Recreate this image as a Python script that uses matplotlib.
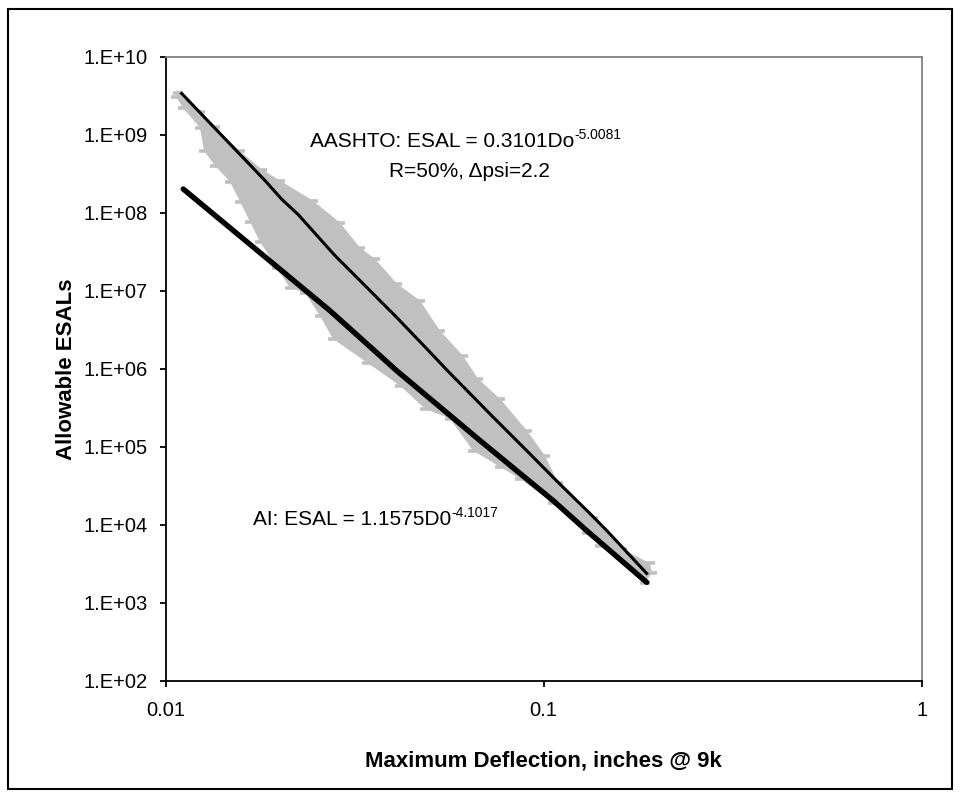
import numpy as np
import matplotlib.pyplot as plt
from matplotlib.patches import Rectangle

plt.rcParams['font.family'] = ['Liberation Sans', 'DejaVu Sans']

# AASHTO curve (thin black line)
aashto_x = [0.01102, 0.01832, 0.02028, 0.02244, 0.02805, 0.03334, 0.04083, 0.05000,
            0.05534, 0.07211, 0.09204, 0.1081, 0.1330, 0.1469, 0.1873]
aashto_y = [3.41e9, 2.60e8, 1.50e8, 9.50e7, 2.84e7, 1.23e7, 4.59e6, 1.65e6,
            9.80e5, 2.65e5, 8.13e4, 3.70e4, 1.38e4, 8.47e3, 2.39e3]

# AI curve (thick black line)
ai_x = [0.01113, 0.02721, 0.03333, 0.04084, 0.06785, 0.08483, 0.1060, 0.1300, 0.1873]
ai_y = [2.03e8, 5.58e6, 2.31e6, 9.51e5, 1.21e5, 4.97e4, 2.05e4, 8.45e3, 1.84e3]

# outline of the grey cloud of computed points (upper edge, left to right)
cloud_top_x = [0.01078, 0.01232, 0.01350, 0.01573, 0.01798, 0.02006, 0.02453, 0.02891,
               0.03266, 0.03578, 0.04091, 0.04708, 0.05316, 0.06115, 0.06703, 0.07663,
               0.09033, 0.1008, 0.1091, 0.1350, 0.1611, 0.1911, 0.1934]
cloud_top_y = [3.48e9, 1.95e9, 1.25e9, 6.20e8, 3.60e8, 2.60e8, 1.44e8, 7.52e7,
               3.59e7, 2.59e7, 1.24e7, 7.52e6, 3.10e6, 1.48e6, 7.52e5, 4.16e5,
               1.62e5, 7.73e4, 3.48e4, 1.24e4, 4.98e3, 3.21e3, 2.43e3]
# lower edge, right to left
cloud_bot_x = [0.1854, 0.1409, 0.1302, 0.1058, 0.08657, 0.07663, 0.06501, 0.05650,
               0.04853, 0.04168, 0.03408, 0.02770, 0.02559, 0.02336, 0.02132, 0.01969,
               0.01776, 0.01671, 0.01573, 0.01480, 0.01350, 0.01263, 0.01232, 0.01111,
               0.01065]
cloud_bot_y = [1.82e3, 5.43e3, 7.96e3, 1.93e4, 3.93e4, 5.58e4, 8.97e4, 2.31e5,
               3.10e5, 6.11e5, 1.21e6, 2.44e6, 4.82e6, 9.51e6, 1.10e7, 1.99e7,
               4.29e7, 7.73e7, 1.40e8, 2.52e8, 4.04e8, 6.30e8, 1.24e9, 2.24e9,
               3.10e9]

x_ticks = [0.01, 0.1, 1]
x_labels = ['0.01', '0.1', '1']
y_ticks = [1e2, 1e3, 1e4, 1e5, 1e6, 1e7, 1e8, 1e9, 1e10]
y_labels = ['1.E+02', '1.E+03', '1.E+04', '1.E+05', '1.E+06',
            '1.E+07', '1.E+08', '1.E+09', '1.E+10']

fig = plt.figure(figsize=(9.61, 8.0), dpi=100)
ax = fig.add_axes([0.1724, 0.14875, 0.7867, 0.78])

grey = '#c0c0c0'
cx = np.concatenate([cloud_top_x, cloud_bot_x])
cy = np.concatenate([cloud_top_y, cloud_bot_y])
ax.fill(cx, cy, color=grey, lw=0, zorder=1)
ax.plot(cx, cy, ls='none', marker='_', ms=7.5, mew=2.6, color=grey, zorder=1)

ax.plot(aashto_x, aashto_y, color='black', lw=2.2, zorder=3)
ax.plot(ai_x, ai_y, color='black', lw=3.9, solid_capstyle='round', zorder=3)

ax.set_xscale('log')
ax.set_yscale('log')
ax.set_xlim(0.01, 1)
ax.set_ylim(1e2, 1e10)
ax.set_xticks(x_ticks)
ax.set_xticklabels(x_labels)
ax.set_yticks(y_ticks)
ax.set_yticklabels(y_labels)
ax.minorticks_off()

for s in ['left', 'bottom']:
    ax.spines[s].set_color('black')
    ax.spines[s].set_linewidth(1.3)
for s in ['top', 'right']:
    ax.spines[s].set_color('#808080')
    ax.spines[s].set_linewidth(1.3)

ax.tick_params(axis='both', direction='out', length=4.2, width=1.3, labelsize=14.5)
ax.tick_params(axis='y', pad=8.5)
ax.tick_params(axis='x', pad=10.5)

ax.set_xlabel('Maximum Deflection, inches @ 9k', fontsize=16, fontweight='bold', labelpad=22)
ax.set_ylabel('Allowable ESALs', fontsize=16, fontweight='bold', labelpad=5)

# equations, exponent drawn as a small raised text after the main text
t1 = ax.text(0.191, 0.8563, 'AASHTO: ESAL = 0.3101Do', transform=ax.transAxes,
             ha='left', va='baseline', fontsize=15)
ax.annotate('-5.0081', xy=(1.0, 0.62), xycoords=t1, ha='left', va='baseline', fontsize=10)
ax.text(0.402, 0.8082, 'R=50%, \u0394psi=2.2', transform=ax.transAxes,
        ha='center', va='baseline', fontsize=15)
t2 = ax.text(0.1155, 0.25, 'AI: ESAL = 1.1575D0', transform=ax.transAxes,
             ha='left', va='baseline', fontsize=15)
ax.annotate('-4.1017', xy=(1.0, 0.62), xycoords=t2, ha='left', va='baseline', fontsize=10)

fig.patches.append(Rectangle((0.0083, 0.01375), 0.982, 0.975, transform=fig.transFigure,
                             fill=False, edgecolor='black', lw=1.5))

fig.savefig('out.png', dpi=100)
